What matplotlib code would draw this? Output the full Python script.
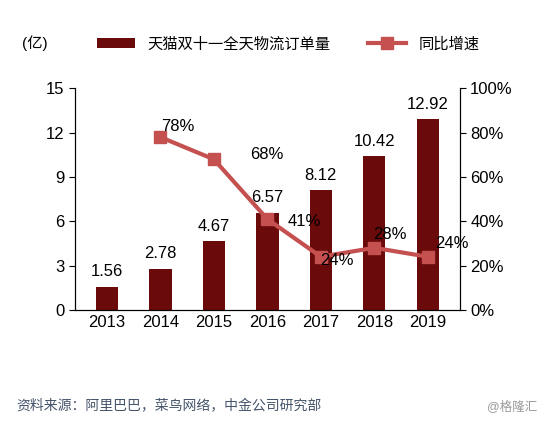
import matplotlib.pyplot as plt
plt.rcParams['font.family'] = ['Liberation Sans', 'Noto Sans CJK SC', 'DejaVu Sans']

years = ['2013','2014','2015','2016','2017','2018','2019']
orders = [1.56, 2.78, 4.67, 6.57, 8.12, 10.42, 12.92]
growth_years = ['2014','2015','2016','2017','2018','2019']
growth = [78, 68, 41, 24, 28, 24]

fig = plt.figure(figsize=(5.54, 4.21), dpi=100)
ax = fig.add_axes([0.135, 0.264, 0.695, 0.526])
ax2 = ax.twinx()
x = list(range(len(years)))
ax.bar(x, orders, width=0.42, color='#6B0A0A', label='天猫双十一全天物流订单量', zorder=2)
for xi, v in zip(x, orders):
    ax.text(xi, v + 0.5, f'{v:.2f}', ha='center', va='bottom', fontsize=12)
gx = [years.index(y) for y in growth_years]
ax2.plot(gx, growth, color='#C4504F', lw=3, marker='s', ms=8, label='同比增速', zorder=3)
offs = [(0.32, 5), (1.0, 2), (0.7, -1), (0.3, -1.5), (0.3, 6), (0.45, 6)]
for xi, v, (dx, dy) in zip(gx, growth, offs):
    ax2.text(xi + dx, v + dy, f'{v}%', ha='center', va='center', fontsize=12)
ax.set_ylim(0, 15); ax.set_yticks(range(0, 16, 3))
ax2.set_ylim(0, 100); ax2.set_yticks(range(0, 101, 20))
ax2.set_yticklabels([f'{t}%' for t in range(0, 101, 20)])
ax.set_xlim(-0.6, 6.6)
ax.set_xticks(x); ax.set_xticklabels(years)
for a in (ax, ax2):
    a.tick_params(labelsize=12, length=0)
    a.spines['top'].set_visible(False)
ax.tick_params(axis='y', length=4, direction='out')
ax2.tick_params(axis='y', length=4, direction='out')
fig.text(0.04, 0.885, '(亿)', fontsize=11)
h1, l1 = ax.get_legend_handles_labels(); h2, l2 = ax2.get_legend_handles_labels()
fig.legend(h1 + h2, l1 + l2, loc='center', bbox_to_anchor=(0.52, 0.895), ncol=2, frameon=False, fontsize=11, handlelength=2.5, columnspacing=2.5)
fig.text(0.03, 0.025, '资料来源：阿里巴巴，菜鸟网络，中金公司研究部', fontsize=10, style='italic', color='#44546A')
fig.text(0.97, 0.025, '@格隆汇', fontsize=9, color='#999999', ha='right')
fig.savefig('out.png', dpi=100)
